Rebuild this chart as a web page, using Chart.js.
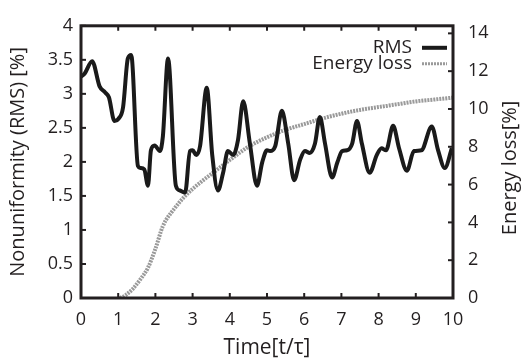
<!DOCTYPE html>
<html>
<head>
<meta charset="utf-8">
<script src="https://cdn.jsdelivr.net/npm/chart.js@4"></script>
<style>
  html, body { margin: 0; padding: 0; background: #fff; }
  #wrap { width: 528px; height: 361px; }
</style>
</head>
<body>
<div id="wrap"><canvas id="nonuniformity_chart" width="528" height="361"></canvas></div>
<script>
// RMS nonuniformity
let rmsTime = [0, 0.1, 0.3, 0.5, 0.65, 0.75, 0.9, 1.0, 1.13, 1.26, 1.35, 1.53, 1.6, 1.7, 1.8, 1.88, 1.98, 2.12, 2.2, 2.34,
    2.55, 2.66, 2.8, 2.93, 3.0, 3.1, 3.2, 3.38, 3.53, 3.68, 3.82, 3.95, 4.09, 4.22, 4.36, 4.54, 4.73, 4.87, 5.0,
    5.08, 5.22, 5.4, 5.57, 5.73, 5.89, 6.02, 6.15, 6.29, 6.42, 6.56, 6.75, 6.89, 7.02, 7.15, 7.29, 7.42,
    7.55, 7.76, 7.95, 8.08, 8.2, 8.39, 8.55, 8.76, 8.95, 9.15, 9.43, 9.6, 9.78, 9.97];
let rmsValue = [3.25, 3.3, 3.48, 3.11, 3.02, 2.95, 2.6, 2.63, 2.8, 3.52, 3.57, 1.94, 1.91, 1.89, 1.65, 2.17, 2.24, 2.16, 2.37, 3.52,
    1.65, 1.58, 1.55, 2.16, 2.17, 2.1, 2.23, 3.09, 2.09, 1.58, 1.84, 2.16, 2.1, 2.32, 2.89, 2.27, 1.65, 1.99, 2.17,
    2.16, 2.23, 2.75, 2.27, 1.73, 2.03, 2.16, 2.13, 2.27, 2.66, 2.27, 1.77, 1.99, 2.16, 2.17, 2.27, 2.6,
    2.27, 1.84, 2.1, 2.2, 2.17, 2.53, 2.2, 1.87, 2.16, 2.17, 2.52, 2.17, 1.91, 2.2];

// Energy loss (right axis)
let lossTime = [1.05, 1.2, 1.4, 1.6, 1.8, 2.0, 2.2, 2.5, 2.8, 3.2, 3.6, 4.0, 4.5, 5, 5.5, 6, 6.5, 7, 7.5, 8, 8.5, 9, 9.5, 10];
let lossValue = [0, 0.15, 0.5, 1.0, 1.6, 2.6, 3.8, 4.7, 5.4, 6.1, 6.7, 7.3, 8.0, 8.5, 8.9, 9.2, 9.5, 9.75, 9.95, 10.1, 10.25, 10.4, 10.5, 10.6];

// tick labels
let xTicks = [0, 1, 2, 3, 4, 5, 6, 7, 8, 9, 10];
let yTicks = [0, 0.5, 1, 1.5, 2, 2.5, 3, 3.5, 4];
let y2Ticks = [0, 2, 4, 6, 8, 10, 12, 14];

let legendLabels = ["RMS", "Energy loss"];
let xTitle = "Time[t/\u03c4]";
let yTitle = "Nonuniformity (RMS) [%]";
let y2Title = "Energy loss[%]";

let fontName = "'Open Sans', 'Noto Sans', sans-serif";
let inkColor = "#231f20";

function toPoints(xs, ys) {
    let pts = [];
    for (let i = 0; i < xs.length; i++) {
        pts.push({x: xs[i], y: ys[i]});
    }
    return pts;
}

function fixTicks(list) {
    return function (s) {
        s.ticks = list.map(v => ({value: v}));
    };
}

// frame, inward ticks, right title and legend
const framePlugin = {
    id: "framePlugin",
    afterDatasetsDraw(chart) {
        let ctx = chart.ctx;
        let a = chart.chartArea;
        let sx = chart.scales.x, sy = chart.scales.y, sy2 = chart.scales.y2;
        ctx.save();
        ctx.strokeStyle = inkColor;
        ctx.lineWidth = 2;
        sx.ticks.forEach(t => {
            let px = sx.getPixelForValue(t.value);
            ctx.beginPath();
            ctx.moveTo(px, a.bottom); ctx.lineTo(px, a.bottom - 5);
            ctx.moveTo(px, a.top); ctx.lineTo(px, a.top + 5);
            ctx.stroke();
        });
        sy.ticks.forEach(t => {
            let py = sy.getPixelForValue(t.value);
            ctx.beginPath();
            ctx.moveTo(a.left, py); ctx.lineTo(a.left + 5, py);
            ctx.stroke();
        });
        sy2.ticks.forEach(t => {
            let py = sy2.getPixelForValue(t.value);
            ctx.beginPath();
            ctx.moveTo(a.right, py); ctx.lineTo(a.right - 5, py);
            ctx.stroke();
        });
        ctx.lineWidth = 3;
        ctx.strokeRect(a.left, a.top, a.right - a.left, a.bottom - a.top);

        // right axis title, reads bottom to top
        ctx.fillStyle = inkColor;
        ctx.font = "20px " + fontName;
        ctx.textAlign = "center";
        ctx.textBaseline = "middle";
        ctx.translate(510, (a.top + a.bottom) / 2 + 6);
        ctx.rotate(-Math.PI / 2);
        ctx.fillText(y2Title, 0, 0);
        ctx.setTransform(1, 0, 0, 1, 0, 0);

        // legend
        ctx.font = "19px " + fontName;
        ctx.textAlign = "right";
        chart.data.datasets.forEach((ds, i) => {
            let ly = a.top + 22 + i * 16;
            ctx.fillText(ds.label, a.right - 41, ly);
            ctx.beginPath();
            ctx.strokeStyle = ds.borderColor;
            ctx.lineWidth = i == 0 ? 4 : 3;
            ctx.setLineDash(ds.borderDash || []);
            ctx.moveTo(a.right - 31, ly);
            ctx.lineTo(a.right - 6, ly);
            ctx.stroke();
            ctx.setLineDash([]);
        });
        ctx.restore();
    }
};

new Chart("nonuniformity_chart", {
    type: "line",
    data: {
        datasets: [{
            label: legendLabels[0],
            data: toPoints(rmsTime, rmsValue),
            borderColor: "#1a1a1a",
            borderWidth: 4,
            pointRadius: 0,
            cubicInterpolationMode: "monotone",
            yAxisID: "y"
        }, {
            label: legendLabels[1],
            data: toPoints(lossTime, lossValue),
            borderColor: "#9a9a9a",
            borderWidth: 4,
            borderDash: [2, 1],
            pointRadius: 0,
            cubicInterpolationMode: "monotone",
            yAxisID: "y2"
        }]
    },
    plugins: [framePlugin],
    options: {
        responsive: false,
        animation: false,
        layout: {padding: {top: 20}},
        plugins: {legend: {display: false}, tooltip: {enabled: false}},
        scales: {
            x: {
                type: "linear",
                min: 0, max: 10,
                afterBuildTicks: fixTicks(xTicks),
                ticks: {color: inkColor, font: {family: fontName, size: 18}, padding: 11, maxRotation: 0},
                grid: {display: false, drawTicks: false},
                border: {display: false},
                title: {display: true, text: xTitle, color: inkColor, font: {family: fontName, size: 21}, padding: {top: 4, bottom: 0}},
                afterFit: s => { s.height = 63; }
            },
            y: {
                position: "left",
                min: 0, max: 4,
                afterBuildTicks: fixTicks(yTicks),
                ticks: {color: inkColor, font: {family: fontName, size: 18}, padding: 8, callback: v => String(v)},
                grid: {display: false, drawTicks: false},
                border: {display: false},
                title: {display: true, text: yTitle, color: inkColor, font: {family: fontName, size: 20}, padding: {top: 6, bottom: 0}},
                afterFit: s => { s.width = 81; }
            },
            y2: {
                position: "right",
                min: 0, max: 14.4,
                afterBuildTicks: fixTicks(y2Ticks),
                ticks: {color: inkColor, font: {family: fontName, size: 18}, padding: 15, callback: v => String(v)},
                grid: {display: false, drawTicks: false},
                border: {display: false},
                afterFit: s => { s.width = 75; }
            }
        }
    }
});
</script>
</body>
</html>
